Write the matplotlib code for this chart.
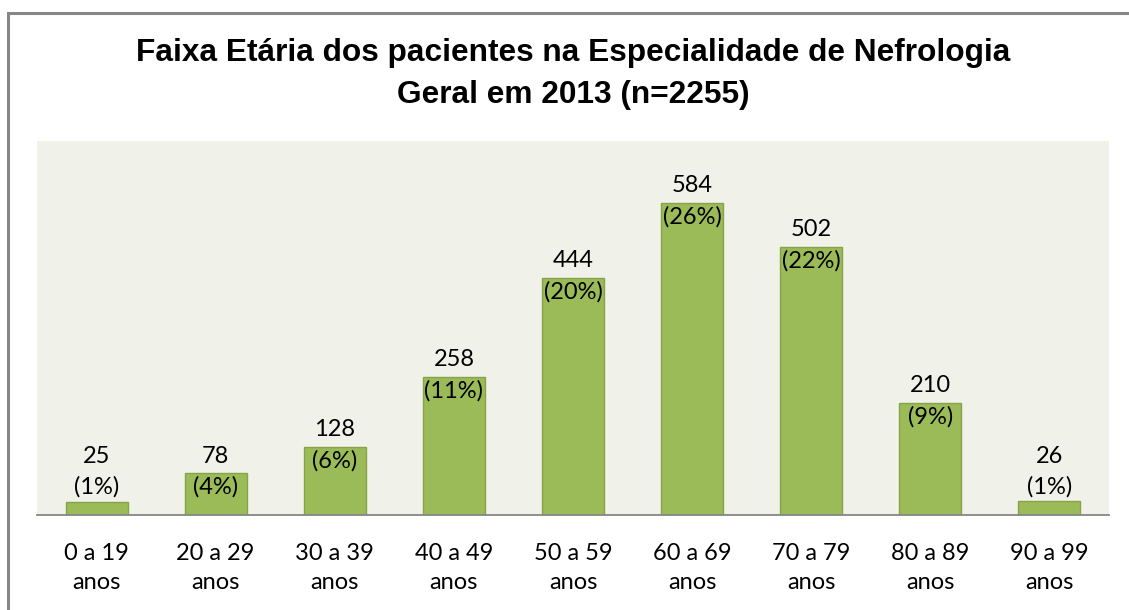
import matplotlib.pyplot as plt
from matplotlib.patches import Rectangle

faixas = ['0 a 19\nanos', '20 a 29\nanos', '30 a 39\nanos', '40 a 49\nanos', '50 a 59\nanos',
          '60 a 69\nanos', '70 a 79\nanos', '80 a 89\nanos', '90 a 99\nanos']
pacientes = [25, 78, 128, 258, 444, 584, 502, 210, 26]
percentuais = [1, 4, 6, 11, 20, 26, 22, 9, 1]

W, H = 1129, 610
fig = plt.figure(figsize=(W / 100, H / 100), dpi=100)
fig.patch.set_facecolor('white')

# moldura cinza (cortada a direita e embaixo)
fig.patches.append(Rectangle((7.5 / W, -0.1), 1.2, (H - 13.5) / H + 0.1, transform=fig.transFigure,
                             fill=False, edgecolor='#878787', linewidth=2.2))

ax = fig.add_axes([37 / W, (H - 515) / H, (1109 - 37) / W, (515 - 141) / H])
ax.set_facecolor('#F0F2E9')

x = range(len(pacientes))
ax.bar(x, pacientes, width=0.52, color='#9BBB59', edgecolor='#86A34A', linewidth=1)

# rotulos: o Excel nao deixa o rotulo descer abaixo do eixo
for i, v in enumerate(pacientes):
    ax.text(i, max(v + 3, 81), '%d\n(%d%%)' % (v, percentuais[i]), ha='center', va='center',
            fontsize=17, family='Lato', color='black', linespacing=1.55)

ax.set_xlim(-0.5, len(pacientes) - 0.5)
ax.set_ylim(0, 700)
ax.set_yticks([])
ax.set_xticks(list(x))
ax.set_xticklabels(faixas, fontsize=17, family='Lato', linespacing=1.5)
ax.tick_params(axis='x', length=0, pad=20)
for s in ['top', 'right', 'left']:
    ax.spines[s].set_visible(False)
ax.spines['bottom'].set_color('#868686')
ax.spines['bottom'].set_linewidth(1.3)

fig.text((37 + 1109) / 2 / W, 1 - 74 / H,
         'Faixa Etária dos pacientes na Especialidade de Nefrologia\nGeral em 2013 (n=2255)',
         ha='center', va='center', fontsize=22.8, fontweight='bold', family='Liberation Sans',
         linespacing=1.5)

fig.savefig('out.png', dpi=100)
